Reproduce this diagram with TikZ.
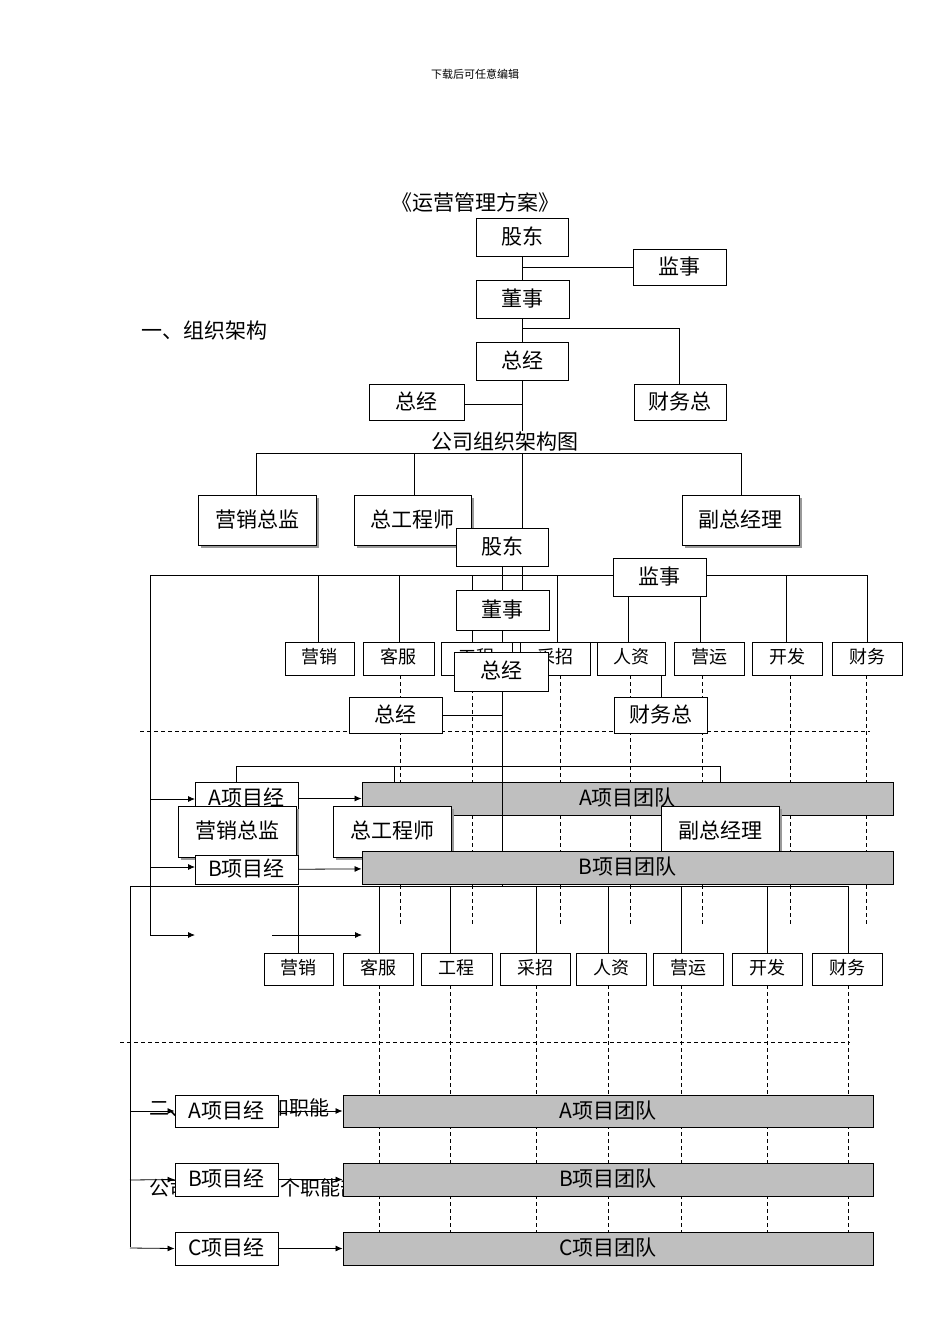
\documentclass[tikz,border=0pt]{standalone}
\usepackage{fontspec}
\setmainfont{Noto Sans CJK SC}
\usetikzlibrary{arrows.meta}
\newcommand\bx[7][]{%
 \pgfmathsetmacro\bcx{(#3+#5)/2}\pgfmathsetmacro\bcy{(#4+#6)/2}%
 \pgfmathsetmacro\bbw{#5-#3}\pgfmathsetmacro\bbh{#6-#4}%
 \node[box,#1,minimum width=\bbw pt,minimum height=\bbh pt] (#2) at (\bcx,\bcy) {#7};}
\begin{document}
\begin{tikzpicture}[x=1pt,y=-1pt,
 box/.style={draw,fill=white,line width=0.9pt,inner sep=0pt,font=\fontsize{21}{22}\selectfont,text depth=0pt,text height=14pt},
 dept/.style={font=\fontsize{18}{19}\selectfont,text height=10pt},
 team/.style={fill=black!25,font=\fontsize{21}{22}\selectfont},
 ln/.style={line width=0.7pt},
 dl/.style={line width=0.7pt,dash pattern=on 4pt off 3pt},
 ar/.style={line width=0.8pt,-{Latex[length=7pt,width=6pt]}}]
\useasboundingbox (0,0) rectangle (950,1344);
\fill[white] (0,0) rectangle (950,1344);
% texts
\node[font=\fontsize{11}{12}\selectfont] (hdr) at (475,74) {下载后可任意编辑};
\node[font=\fontsize{21}{22}\selectfont] (ttl) at (475,203) {《运营管理方案》};
\node[font=\fontsize{21}{22}\selectfont,anchor=west] (sec1) at (138,331) {一、组织架构};
\node[font=\fontsize{20}{22}\selectfont,anchor=west] (sec2) at (146,1108) {二、部门设置和职能};
\node[font=\fontsize{20}{22}\selectfont,anchor=west] (para) at (146,1188) {公司主要设置3个职能部门，各部门的职能配置如下：};
% ===== first chart =====
\draw[ln] (522,237) -- (522,590);
\draw[ln] (522,267) -- (633,267);
\draw[ln] (522,328) -- (679,328) -- (679,384);
\draw[ln] (464,404) -- (522,404);
\draw[ln] (256,495) -- (256,453) -- (741,453) -- (741,495);
\draw[ln] (414,453) -- (414,495);
\bx{gd1}{476}{218}{568}{256}{股东}
\bx{js1}{633}{249}{726}{285}{监事}
\bx{ds1}{476}{280}{569}{318}{董事}
\bx{zj1}{476}{342}{568}{380}{总经}
\bx{zjl1}{369}{384}{464}{420}{总经}
\bx{cw1}{634}{384}{726}{420}{财务总}
\node[font=\fontsize{21}{22}\selectfont,fill=white,inner sep=1pt] (cap) at (505,442) {公司组织架构图};
\fill[black!40] (201,498) rectangle (319,548);
\fill[black!40] (357,498) rectangle (474,548);
\fill[black!40] (685,498) rectangle (802,548);
\bx{yx1}{198}{495}{316}{545}{营销总监}
\bx{zg1}{354}{495}{471}{545}{总工程师}
\bx{fz1}{682}{495}{799}{545}{副总经理}
% ===== second chart =====
\draw[ln] (150,575) -- (867,575);
\foreach \x in {318,399,472,557,628,700,786,867} \draw[ln] (\x,575) -- (\x,642);
\draw[ln] (502,566) -- (502,886);
\draw[ln] (502,642) -- (661,642) -- (661,697);
\draw[ln] (442,715) -- (502,715);
\draw[dl] (140,731) -- (870,731);
\foreach \x in {400,472,560,630,702,790,866} \draw[dl] (\x,675) -- (\x,925);
\draw[ln] (236,808) -- (236,766) -- (720,766) -- (720,808);
\draw[ln] (394,766) -- (394,806);
\draw[ln] (150,575) -- (150,935);
\draw[ar] (150,799) -- (195,799);
\draw[ar] (150,867) -- (195,867);
\draw[ar] (150,935) -- (195,935);
\draw[ar] (272,935) -- (362,935);
\bx{gd2}{456}{528}{548}{566}{股东}
\bx{js2}{613}{558}{706}{596}{监事}
\bx{ds2}{456}{590}{549}{630}{董事}
\foreach \n/\a/\b/\t in {d1/285/354/营销,d2/363/434/客服,d3/441/512/工程,d4/520/590/采招,d5/597/665/人资,d6/674/744/营运,d7/752/822/开发,d8/832/902/财务}
 {\bx[dept]{\n}{\a}{642}{\b}{675}{\t}}
\bx{zj2}{454}{652}{548}{691}{总经}
\bx{zjl2}{349}{697}{442}{733}{总经}
\bx{cw2}{614}{697}{707}{733}{财务总}
\bx{pa1}{195}{782}{298}{815}{A项目经}
\bx[team]{ta1}{362}{782}{893}{815}{A项目团队}
\draw[ar] (pa1) -- (ta1);
\draw[ln] (502,782) -- (502,886);
\fill[black!40] (181,809) rectangle (299,860);
\fill[black!40] (336,809) rectangle (454,860);
\fill[black!40] (664,809) rectangle (782,860);
\bx{yx2}{178}{806}{296}{857}{营销总监}
\bx{zg2}{333}{806}{451}{857}{总工程师}
\bx{fz2}{661}{806}{779}{857}{副总经理}
\bx{pb1}{195}{855}{298}{884}{B项目经}
\bx[team]{tb1}{362}{851}{893}{884}{B项目团队}
\draw[ar] (pb1) -- (tb1);
% ===== third chart =====
\draw[ln] (130,886) -- (848,886);
\foreach \x in {298,379,450,536,608,681,767,848} \draw[ln] (\x,886) -- (\x,953);
\foreach \x in {379,450,536,608,681,767,848} \draw[dl] (\x,985) -- (\x,1245);
\draw[dl] (120,1042) -- (850,1042);
\foreach \n/\a/\b/\t in {e1/264/333/营销,e2/343/413/客服,e3/421/492/工程,e4/500/570/采招,e5/576/646/人资,e6/653/723/营运,e7/732/802/开发,e8/812/882/财务}
 {\bx[dept]{\n}{\a}{953}{\b}{985}{\t}}
\draw[ln] (130,886) -- (130,1247);
\bx{pa2}{175}{1095}{278}{1127}{A项目经}
\bx[team]{ta2}{343}{1095}{873}{1127}{A项目团队}
\bx{pb2}{175}{1163}{278}{1196}{B项目经}
\bx[team]{tb2}{343}{1163}{873}{1196}{B项目团队}
\bx{pc2}{175}{1232}{278}{1265}{C项目经}
\bx[team]{tc2}{343}{1232}{873}{1265}{C项目团队}
\draw[ar] (130,1111) -- (pa2.west);
\draw[ar] (130,1180) -- (pb2.west);
\draw[ar] (130,1248) -- (pc2.west);
\draw[ar] (pa2) -- (ta2);
\draw[ar] (pb2) -- (tb2);
\draw[ar] (pc2) -- (tc2);
\end{tikzpicture}
\end{document}
